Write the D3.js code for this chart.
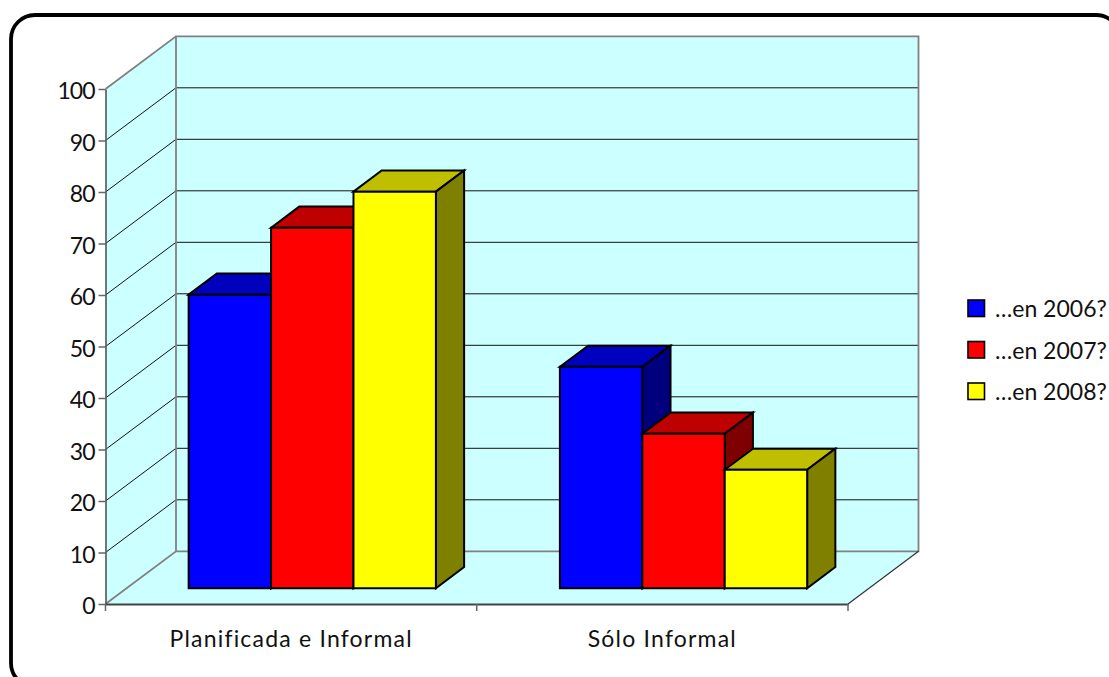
<!DOCTYPE html>
<html><head><meta charset="utf-8">
<script src="https://cdn.jsdelivr.net/npm/d3@7"></script>
<style>html,body{margin:0;padding:0;background:#fff}svg{display:block}text{font-family:Lato,sans-serif;fill:#111}</style>
</head><body><svg id="c" width="1109" height="677"></svg>
<script>
const categories = ["Planificada e Informal", "Sólo Informal"];
const seriesNames = ["…en 2006?", "…en 2007?", "…en 2008?"];
const v2006 = [57, 43];
const v2007 = [70, 30];
const v2008 = [77, 23];
const front = ["#0000ff", "#ff0000", "#ffff00"];
const topFace = ["#0000bf", "#bf0000", "#bfbf00"];
const sideFace = ["#00007f", "#7f0000", "#7f7f00"];
const yTicks = d3.range(0, 101, 10);

const series = [v2006, v2007, v2008];
const svg = d3.select("#c");
const W = 105.5, E = 848, Y0 = 604, Y100 = 89, DX = 70.5, DY = -52.7;
const y = d3.scaleLinear().domain([0, 100]).range([Y0, Y100]);
const x = d3.scaleBand().domain(categories).range([W, E]);
const xb = d3.scaleBand().domain(d3.range(3)).range([62, x.bandwidth() - 62]);
const line = d3.line();
const poly = pts => line(pts) + "Z";

// frame
svg.append("rect").attr("x", 11).attr("y", 15).attr("width", 1109).attr("height", 672)
  .attr("rx", 24).attr("fill", "#fff").attr("stroke", "#000").attr("stroke-width", 3.8);

// walls
const wall = "#ccffff", edge = "#808080";
svg.append("path").attr("d", poly([[W, y(0)], [W + DX, y(0) + DY], [E + DX, y(0) + DY], [E, y(0)]])).attr("fill", wall);
svg.append("path").attr("d", poly([[W, y(0)], [W, y(100)], [W + DX, y(100) + DY], [W + DX, y(0) + DY]])).attr("fill", wall);
svg.append("path").attr("d", poly([[W + DX, y(100) + DY], [E + DX, y(100) + DY], [E + DX, y(0) + DY], [W + DX, y(0) + DY]])).attr("fill", wall);

// gridlines
yTicks.filter(t => t > 0 && t < 100).forEach(t => {
  svg.append("path").attr("d", line([[W, y(t)], [W + DX, y(t) + DY], [E + DX, y(t) + DY]]))
    .attr("fill", "none").attr("stroke", "#111").attr("stroke-width", 1);
});
// wall edges
svg.append("path").attr("d", line([[W, y(100)], [W + DX, y(100) + DY], [E + DX, y(100) + DY], [E + DX, y(0) + DY], [W + DX, y(0) + DY], [W, y(0)]]))
  .attr("fill", "none").attr("stroke", edge).attr("stroke-width", 1.8);
svg.append("path").attr("d", line([[W + DX, y(100) + DY], [W + DX, y(0) + DY]]))
  .attr("fill", "none").attr("stroke", edge).attr("stroke-width", 1.8);
svg.append("path").attr("d", line([[E, y(0)], [E + DX, y(0) + DY]]))
  .attr("fill", "none").attr("stroke", "#333").attr("stroke-width", 1.2);

// bars
const d0 = 0.3, d1 = 0.7;
categories.forEach((c, ci) => {
  series.forEach((s, si) => {
    const xl = x(c) + xb(si), xr = xl + xb.bandwidth();
    const ox = d0 * DX, oy = d0 * DY, bx = (d1 - d0) * DX, by = (d1 - d0) * DY;
    const fl = xl + ox, fr = xr + ox, ft = y(s[ci]) + oy, fb = y(0) + oy;
    const g = svg.append("g").attr("stroke", "#000").attr("stroke-width", 2).attr("stroke-linejoin", "miter");
    g.append("path").attr("d", poly([[fl, ft], [fl + bx, ft + by], [fr + bx, ft + by], [fr, ft]])).attr("fill", topFace[si]);
    g.append("path").attr("d", poly([[fr, ft], [fr + bx, ft + by], [fr + bx, fb + by], [fr, fb]])).attr("fill", sideFace[si]);
    g.append("path").attr("d", poly([[fl, ft], [fr, ft], [fr, fb], [fl, fb]])).attr("fill", front[si]);
  });
});

// axes
const yAxis = d3.axisLeft(y).tickValues(yTicks).tickSize(7).tickPadding(4).tickSizeOuter(0);
const ga = svg.append("g").attr("transform", `translate(${W},0)`).call(yAxis);
ga.selectAll("line").attr("stroke", "#666").attr("stroke-width", 1.5);
ga.select(".domain").attr("stroke", "#555").attr("stroke-width", 1.6);
ga.selectAll("text").attr("dy", "0.42em").style("font-family", "Lato").style("font-size", "23px").style("letter-spacing", "-1px").attr("fill", "#111");

const xAxis = d3.axisBottom(x).tickValues([]).tickSize(0);
const gx = svg.append("g").attr("transform", `translate(0,${Y0})`).call(xAxis);
gx.select(".domain").attr("stroke", "#444").attr("stroke-width", 2);
[W, x(categories[1]), E].forEach(v => {
  svg.append("line").attr("x1", v).attr("x2", v).attr("y1", Y0).attr("y2", Y0 + 7).attr("stroke", "#666").attr("stroke-width", 1.5);
});
categories.forEach(c => {
  svg.append("text").attr("x", x(c) + x.bandwidth() / 2).attr("y", 647).attr("text-anchor", "middle")
    .style("font-size", "23px").style("letter-spacing", "1.2px").text(c);
});

// legend
const ly = d3.scalePoint().domain(seriesNames).range([308, 391]);
seriesNames.forEach((n, i) => {
  svg.append("rect").attr("x", 968).attr("y", ly(n) - 8).attr("width", 16.5).attr("height", 16.5)
    .attr("fill", front[i]).attr("stroke", "#000").attr("stroke-width", 1.6);
  svg.append("text").attr("x", 995).attr("y", ly(n) + 9).style("font-size", "23px").text(n);
});
</script></body></html>
